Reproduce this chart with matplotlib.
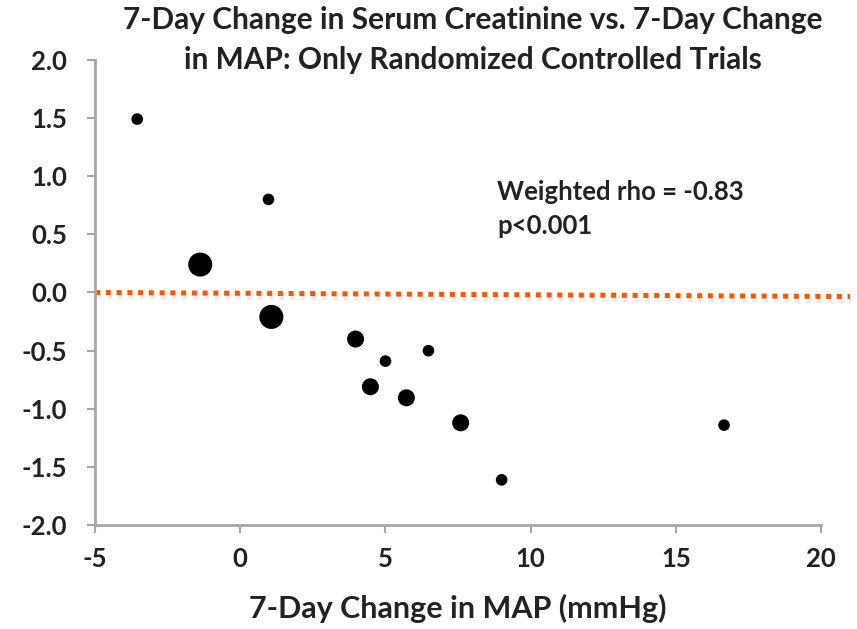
import matplotlib
matplotlib.use("Agg")
import matplotlib.pyplot as plt
import matplotlib.patheffects as pe

plt.rcParams['font.family'] = ['Lato', 'DejaVu Sans']

# data
map_change = [-3.55, -1.38, 0.97, 1.07, 3.97, 5.0, 6.48, 4.48, 5.72, 7.59, 9.0, 16.66]
creat_change = [1.49, 0.24, 0.80, -0.21, -0.40, -0.59, -0.50, -0.81, -0.905, -1.12, -1.61, -1.14]
weights = [1, 3, 1, 3, 2, 1, 1, 2, 2, 2, 1, 1]
ref_x = [-5, 21.0]
ref_y = [0.0, -0.035]

x_ticks = [-5, 0, 5, 10, 15, 20]
y_ticks = [-2.0, -1.5, -1.0, -0.5, 0.0, 0.5, 1.0, 1.5, 2.0]

size_for = {1: 70, 2: 150, 3: 300}

fig = plt.figure(figsize=(8.57, 6.29), dpi=100)
ax = fig.add_axes([0.111, 0.165, 0.847, 0.74])

# orange reference line at zero
ax.plot(ref_x, ref_y, color='#ff5500', lw=3.6, linestyle=(0, (1, 1.15)),
        dash_capstyle='butt', clip_on=False, zorder=2,
        path_effects=[pe.SimpleLineShadow(offset=(1, -3), shadow_color='gray', alpha=0.15),
                      pe.Normal()])

ax.scatter(map_change, creat_change, s=[size_for[w] for w in weights],
           color='black', edgecolors='none', zorder=3)

ax.set_xlim(-5, 20)
ax.set_ylim(-2.0, 2.0)
ax.set_xticks(x_ticks)
ax.set_xticklabels([str(v) for v in x_ticks])
ax.set_yticks(y_ticks)
ax.set_yticklabels(['%.1f' % v for v in y_ticks])

for s in ['top', 'right']:
    ax.spines[s].set_visible(False)
for s in ['left', 'bottom']:
    ax.spines[s].set_color('#a6a6a6')
    ax.spines[s].set_linewidth(2)
ax.tick_params(direction='out', length=6, width=1.5, color='#a6a6a6',
               labelsize=18.5, labelcolor='#222222')
ax.tick_params(axis='y', pad=14)
ax.tick_params(axis='x', pad=10)
for lab in ax.get_xticklabels() + ax.get_yticklabels():
    lab.set_fontweight('bold')

ax.set_xlabel('7-Day Change in MAP (mmHg)', fontsize=22, fontweight='bold',
              color='#222222', labelpad=16)

fig.text(0.552, 0.99, '7-Day Change in Serum Creatinine vs. 7-Day Change\nin MAP: Only Randomized Controlled Trials',
         ha='center', va='top', fontsize=21.5, fontweight='bold', color='#222222',
         linespacing=1.5)

ax.text(0.554, 0.68, 'Weighted rho = -0.83\np<0.001', transform=ax.transAxes,
        fontsize=18.5, fontweight='bold', color='#222222', va='center', ha='left',
        linespacing=1.5)

fig.savefig('out.png', dpi=100)
